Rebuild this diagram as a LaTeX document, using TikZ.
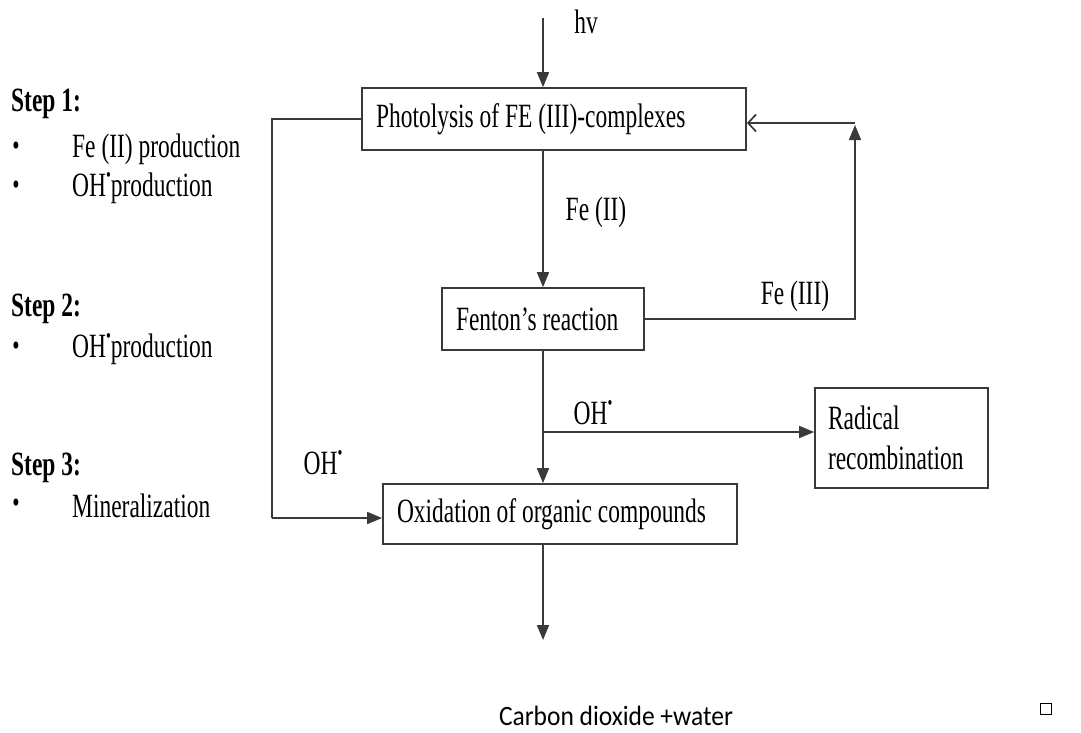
\documentclass[tikz,border=0pt]{standalone}
\usepackage{fontspec}
\setmainfont[FakeStretch=0.69]{Liberation Serif}
\newfontfamily\calfont[FakeStretch=0.91]{Carlito}
\usetikzlibrary{arrows.meta}
\definecolor{ln}{HTML}{3A3A3A}
\newcommand{\ohdot}{OH\raisebox{0.95ex}{\fontsize{20}{20}\selectfont •}}
\tikzset{
  every node/.style={font=\fontsize{34}{38}\selectfont, text=black, inner sep=0pt},
  procbox/.style={draw=ln, line width=1.7pt, inner xsep=14pt},
  conn/.style={draw=ln, line width=1.7pt},
  arr/.style={conn, -{Triangle[length=15pt,width=12pt]}},
  barb/.style={conn, -{Straight Barb[length=8pt,width=17pt]}},
  lbl/.style={anchor=center},
  side/.style={anchor=west},
  bul/.style={anchor=center, font=\fontsize{30}{30}\selectfont}
}
\begin{document}
\begin{tikzpicture}[x=1pt,y=-1pt]
\useasboundingbox (0,0) rectangle (1081,732);
% boxes
\node[procbox, minimum height=62pt] (photo) at (554,119) {\makebox[356pt][l]{Photolysis of FE (III)-complexes}};
\node[procbox, minimum height=62pt] (fenton) at (543,319) {\makebox[174pt][l]{Fenton’s reaction}};
\node[procbox, minimum height=60pt] (oxid) at (560,514) {\makebox[326pt][l]{Oxidation of organic compounds}};
\node[procbox, text width=147pt, minimum height=100pt, inner xsep=13pt, align=left] (radical) at (901.5,438) {Radical\\[2pt]recombination};
% coordinates
\coordinate (hvtop) at (543,18);
\coordinate (cl) at (272,119);
\coordinate (clb) at (272,518);
\coordinate (ret) at (855,123);
\coordinate (br) at (543,432);
\coordinate (endc) at (543,640);
% connectors
\draw[arr] (hvtop) -- (hvtop |- photo.north);
\draw[arr] (fenton.north |- photo.south) -- (fenton.north);
\draw[conn] (fenton.south) -- (br);
\draw[arr] (br) -- (br |- oxid.north);
\draw[arr] (br) -- (radical.west |- br);
\draw[conn] (photo.west) -- (cl) -- (clb);
\draw[arr] (clb) -- (oxid.west |- clb);
\draw[arr] (fenton.east) -| ([yshift=-2pt]ret);
\draw[barb] (ret) -- (photo.east |- ret);
\draw[arr] (oxid.south -| br) -- (endc);
% labels
\node[lbl] (hv) at (586,22) {hv};
\node[lbl] (fe2) at (596,212) {Fe (II)};
\node[lbl] (fe3) at (795,296) {Fe (III)};
\node[lbl] (oh1) at (593,413) {\ohdot};
\node[lbl] (oh2) at (323,463) {\ohdot};
% left column
\node[side, font=\fontsize{34}{38}\selectfont\bfseries] (s1) at (11,104) {Step 1:};
\node[bul] (b1) at (16,149) {•};
\node[side] (t1) at (72,149) {Fe (II) production};
\node[bul] (b2) at (16,188) {•};
\node[side] (t2) at (72,188) {\ohdot production};
\node[side, font=\fontsize{34}{38}\selectfont\bfseries] (s2) at (11,309) {Step 2:};
\node[bul] (b3) at (16,349) {•};
\node[side] (t3) at (72,349) {\ohdot production};
\node[side, font=\fontsize{34}{38}\selectfont\bfseries] (s3) at (11,468) {Step 3:};
\node[bul] (b4) at (16,506) {•};
\node[side] (t4) at (72,506) {Mineralization};
% bottom
\node[lbl, font=\calfont\fontsize{28}{32}\selectfont] (co2) at (616,716) {Carbon dioxide +water};
\node[draw=black, line width=0.8pt, minimum width=11pt, minimum height=11pt] (sq) at (1046,709) {};
\end{tikzpicture}
\end{document}
